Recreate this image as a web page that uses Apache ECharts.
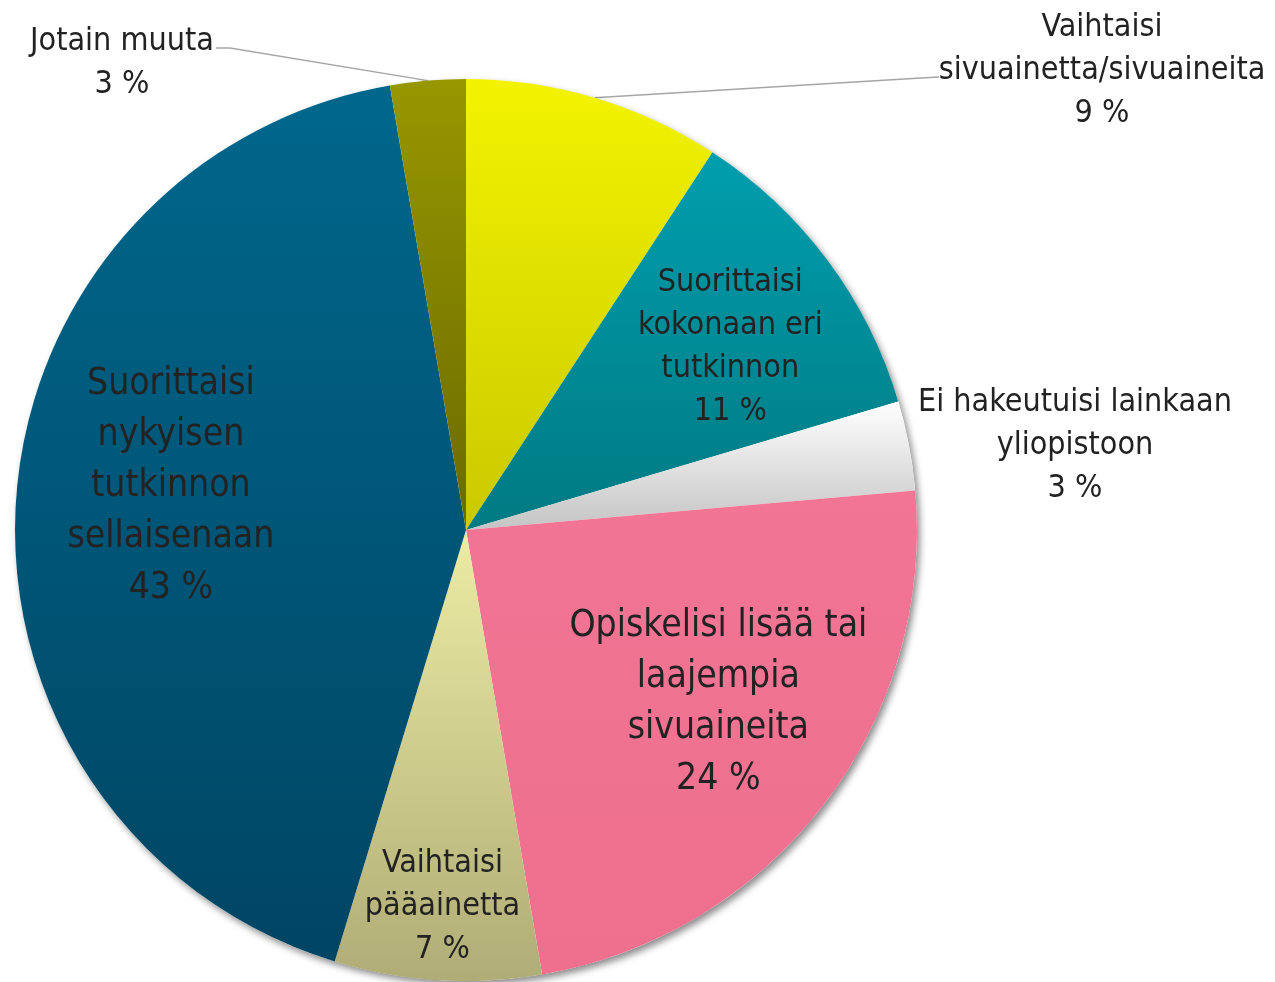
<!DOCTYPE html>
<html lang="fi">
<head>
    <meta charset="utf-8" />
    <title>Pie</title>
    <script src="https://cdn.jsdelivr.net/npm/echarts@6/dist/echarts.min.js"></script>
    <style>
        body { margin: 0; padding: 0; background: #fff; }
        #main { width: 1275px; height: 982px; }
    </style>
</head>
<body>
<div id="main"></div>
<script type="text/javascript">
    // Data (clockwise from 12 o'clock)
    const categories = [
        'Vaihtaisi\nsivuainetta/sivuaineita',
        'Suorittaisi\nkokonaan eri\ntutkinnon',
        'Ei hakeutuisi lainkaan\nyliopistoon',
        'Opiskelisi lisää tai\nlaajempia\nsivuaineita',
        'Vaihtaisi\npääainetta',
        'Suorittaisi\nnykyisen\ntutkinnon\nsellaisenaan',
        'Jotain muuta'
    ];
    const values = [9.2, 11.2, 3.2, 23.7, 7.4, 42.6, 2.7];

    // Styling
    const colors = [
        ['#f3f300', '#c9c900'],
        ['#009eae', '#007a82'],
        ['#ffffff', '#c4c4c4'],
        ['#f27595', '#ee6f8e'],
        ['#ececa4', '#b0ac76'],
        ['#00678c', '#004563'],
        ['#979700', '#6b6a00']
    ];
    const CX = 466, CY = 530, R = 451;
    const FONT = "'DejaVu Sans Condensed', 'Liberation Sans', sans-serif";
    const bigLabel = [false, false, false, true, false, true, false];
    // inside labels: distance from centre as part of radius, plus a small nudge
    const insideRatio = [null, 0.72, null, 0.67, 0.83, 0.66, null];
    const insideNudge = [null, [4, 11], null, [13, -12], [0, 3], [2, -25], null];
    // outside labels: block centre and where the leader line meets it
    const outsideLabel = {
        0: { x: 1102, y: 71, line: [[921, 78], [939, 77]] },
        2: { x: 1075, y: 446, line: null },
        6: { x: 122, y: 63, line: [[230, 48], [216, 48]] }
    };

    const myChart = echarts.init(document.getElementById('main'));

    const pieData = categories.map((name, i) => ({
        name: name,
        value: values[i],
        itemStyle: {
            color: new echarts.graphic.LinearGradient(0, 0, 0, 1, [
                { offset: 0, color: colors[i][0] },
                { offset: 1, color: colors[i][1] }
            ])
        },
        label: {
            position: insideRatio[i] ? 'inside' : 'outside',
            fontSize: bigLabel[i] ? 37 : 32,
            lineHeight: bigLabel[i] ? 51 : 43
        },
        labelLine: {
            show: !!(outsideLabel[i] && outsideLabel[i].line)
        }
    }));

    const option = {
        backgroundColor: '#ffffff',
        animation: false,
        series: [
            {
                // shadow under the pie
                type: 'pie',
                silent: true,
                center: [CX, CY],
                radius: R,
                label: { show: false },
                labelLine: { show: false },
                itemStyle: {
                    color: '#ffffff',
                    shadowBlur: 7,
                    shadowOffsetX: 3,
                    shadowOffsetY: 4,
                    shadowColor: 'rgba(0,0,0,0.45)'
                },
                data: [1]
            },
            {
                type: 'pie',
                center: [CX, CY],
                radius: R,
                startAngle: 90,
                clockwise: true,
                avoidLabelOverlap: false,
                label: {
                    show: true,
                    color: '#222222',
                    fontFamily: FONT,
                    align: 'center',
                    formatter: p => p.name + '\n' + Math.round(p.percent) + ' %'
                },
                labelLine: {
                    length: 10,
                    length2: 20,
                    lineStyle: { color: '#a6a6a6', width: 1.5 }
                },
                labelLayout: function (params) {
                    const i = params.dataIndex;
                    if (insideRatio[i]) {
                        const r = params.labelRect;
                        const mx = r.x + r.width / 2 - CX;
                        const my = r.y + r.height / 2 - CY;
                        const d = Math.sqrt(mx * mx + my * my);
                        return {
                            x: CX + mx / d * insideRatio[i] * R + insideNudge[i][0],
                            y: CY + my / d * insideRatio[i] * R + insideNudge[i][1],
                            align: 'center',
                            verticalAlign: 'middle'
                        };
                    }
                    const o = outsideLabel[i];
                    const res = { x: o.x, y: o.y, align: 'center', verticalAlign: 'middle' };
                    if (o.line && params.labelLinePoints) {
                        res.labelLinePoints = [params.labelLinePoints[0], o.line[0], o.line[1]];
                    }
                    return res;
                },
                data: pieData
            }
        ]
    };

    myChart.setOption(option);
</script>
</body>
</html>
